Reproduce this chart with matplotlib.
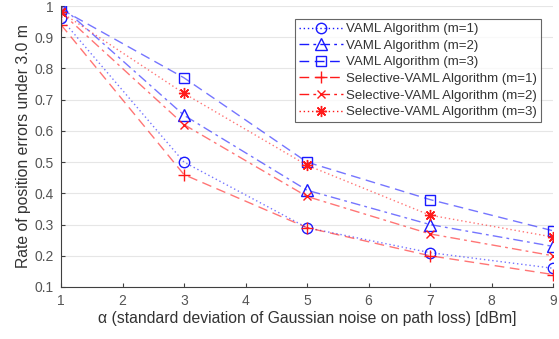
import numpy as np
import matplotlib.pyplot as plt

plt.rcParams['font.family'] = ['Liberation Sans', 'DejaVu Sans']

# данные
sigma = [1, 3, 5, 7, 9]
vaml_m1 = [0.96, 0.50, 0.29, 0.21, 0.16]
vaml_m2 = [1.00, 0.65, 0.41, 0.30, 0.23]
vaml_m3 = [0.99, 0.77, 0.50, 0.38, 0.28]
sel_m1 = [0.94, 0.46, 0.29, 0.20, 0.14]
sel_m2 = [0.98, 0.62, 0.39, 0.27, 0.20]
sel_m3 = [0.98, 0.72, 0.49, 0.33, 0.26]

labels = ['VAML Algorithm (m=1)', 'VAML Algorithm (m=2)', 'VAML Algorithm (m=3)',
          'Selective-VAML Algorithm (m=1)', 'Selective-VAML Algorithm (m=2)',
          'Selective-VAML Algorithm (m=3)']

blue = '#1a1aff'
red = '#ff1a1a'

fig = plt.figure(figsize=(5.59, 3.39), dpi=100)
ax = fig.add_axes([61 / 559, 1 - 287 / 339, 492 / 559, 281 / 339])

styles = [
    (vaml_m1, blue, (0, (1, 2)), 'o', 7.5),
    (vaml_m2, blue, (0, (7, 3, 2, 3)), '^', 8),
    (vaml_m3, blue, (0, (7, 4)), 's', 6.5),
    (sel_m1, red, (0, (7, 4)), '+', 9),
    (sel_m2, red, (0, (7, 3, 2, 3)), 'x', 6),
    (sel_m3, red, (0, (1, 2)), (8, 2, 0), 8),
]

for (vals, c, ls, mk, ms), lab in zip(styles, labels):
    ax.plot(sigma, vals, color=c, alpha=0.6, linestyle=ls, linewidth=1.0)
    ax.plot(sigma, vals, linestyle='none', marker=mk, markersize=ms,
            markerfacecolor='none', markeredgecolor=c, markeredgewidth=1.0)
    # элемент для легенды
    ax.plot([], [], color=c, linestyle=ls, linewidth=1.0, marker=mk,
            markersize=ms, markerfacecolor='none', markeredgecolor=c,
            markeredgewidth=1.0, label=lab)

ax.set_xlim(1, 9)
ax.set_ylim(0.1, 1.0)
ax.set_xticks(range(1, 10))
ax.set_yticks(np.arange(0.1, 1.01, 0.1))
ax.set_yticklabels(['0.1', '0.2', '0.3', '0.4', '0.5', '0.6', '0.7', '0.8', '0.9', '1'])
ax.yaxis.grid(True, color='#e6e6e6', linewidth=0.8)
ax.set_axisbelow(True)
ax.spines['top'].set_visible(False)
ax.spines['right'].set_visible(False)
ax.spines['left'].set_color('#404040')
ax.spines['bottom'].set_color('#404040')
ax.tick_params(colors='#404040', labelsize=10, direction='in', length=3, pad=5)
for t in ax.get_xticklabels() + ax.get_yticklabels():
    t.set_color('#555555')

ax.set_xlabel('α (standard deviation of Gaussian noise on path loss) [dBm]', fontsize=11.3, color='#333333', labelpad=2)
ax.set_ylabel('Rate of position errors under 3.0 m', fontsize=11.3, color='#333333', labelpad=3)

leg = fig.legend(loc='upper right', bbox_to_anchor=(541 / 559, 1 - 19 / 339), fontsize=9.5, frameon=True,
                 fancybox=False, edgecolor='#404040', handlelength=3.3, labelspacing=0.33,
                 borderpad=0.3, handletextpad=0.25, borderaxespad=0)
leg.get_frame().set_linewidth(0.8)
for t in leg.get_texts():
    t.set_color('#333333')

plt.savefig('out.png', dpi=100)
